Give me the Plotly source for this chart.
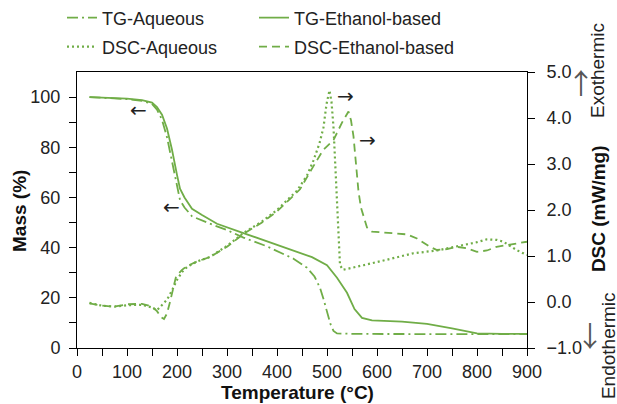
import plotly.graph_objects as go

GREEN = "#70AD47"
FONT = "Liberation Sans, Arial, sans-serif"
ARROW_FONT = "DejaVu Sans"
VARROW_FONT = "Noto Sans CJK SC"

# ---- data ----
tg_aq_temp = [25, 60, 100, 130, 150, 160, 170, 180, 190, 200, 206, 215, 230, 265, 300, 333,
              380, 433, 460, 475, 486, 493, 500, 507, 513, 520, 560, 700, 800, 900]
tg_aq_mass = [100, 99.7, 99.2, 98.5, 97.3, 95, 91, 84, 74, 63.5, 59, 56, 52.5, 49.6, 47, 44,
              40.5, 35.6, 32, 28.5, 24, 19.5, 14.5, 9.5, 6.8, 5.8, 5.6, 5.5, 5.5, 5.5]

tg_et_temp = [25, 60, 100, 130, 150, 160, 170, 180, 190, 200, 206, 215, 230, 250, 280, 330,
              380, 430, 470, 500, 520, 540, 555, 570, 590, 650, 700, 750, 800, 850, 900]
tg_et_mass = [100, 99.8, 99.4, 98.8, 97.8, 96, 93, 87.5, 79, 69, 63.5, 60, 55.5, 53, 49.5, 46,
              42.5, 39, 36.2, 33, 28, 22, 15.5, 12, 11, 10.5, 9.6, 7.8, 5.8, 5.6, 5.6]

dsc_aq_temp = [25, 50, 75, 100, 130, 150, 160, 170, 180, 190, 200, 210, 220, 240, 266, 300,
               333, 370, 400, 440, 460, 473, 485, 493, 499, 505, 509, 513, 516, 519, 523, 526,
               532, 550, 573, 620, 673, 720, 759, 800, 819, 840, 853, 879, 900]
dsc_aq_val = [-0.02, -0.08, -0.1, -0.07, -0.06, -0.12, -0.18, -0.07, 0.05, 0.25, 0.48, 0.65,
              0.76, 0.88, 0.98, 1.22, 1.5, 1.75, 2.0, 2.42, 2.75, 3.08, 3.45, 3.8, 4.3, 4.6,
              4.35, 3.8, 3.1, 2.4, 1.5, 0.8, 0.7, 0.75, 0.8, 0.92, 1.06, 1.12, 1.2, 1.3, 1.36,
              1.35, 1.31, 1.13, 1.02]

dsc_et_temp = [25, 50, 75, 100, 130, 150, 160, 168, 174, 180, 186, 192, 198, 210, 220, 240,
               266, 300, 333, 370, 400, 430, 446, 470, 492, 513, 530, 543, 548, 553, 558, 563,
               568, 573, 580, 590, 620, 660, 680, 706, 720, 740, 759, 780, 800, 820, 839, 870, 900]
dsc_et_val = [-0.03, -0.08, -0.1, -0.05, -0.04, -0.1, -0.2, -0.33, -0.37, -0.25, 0.0, 0.3,
              0.55, 0.7, 0.78, 0.88, 0.98, 1.2, 1.48, 1.73, 1.97, 2.28, 2.45, 2.9, 3.3, 3.52,
              3.9, 4.14, 3.95, 3.6, 3.0, 2.4, 2.05, 1.85, 1.62, 1.53, 1.5, 1.47, 1.38, 1.2,
              1.13, 1.15, 1.2, 1.17, 1.09, 1.12, 1.2, 1.25, 1.31]

x_ticks = [0, 100, 200, 300, 400, 500, 600, 700, 800, 900]
mass_ticks = [0, 20, 40, 60, 80, 100]
dsc_ticks = [-1, 0, 1, 2, 3, 4, 5]

fig = go.Figure()
fig.add_trace(go.Scatter(x=tg_aq_temp, y=tg_aq_mass, name="TG-Aqueous", mode="lines",
                         line=dict(color=GREEN, width=1.8, dash="11px,4px,2px,4px"),
                         legend="legend", yaxis="y"))
fig.add_trace(go.Scatter(x=tg_et_temp, y=tg_et_mass, name="TG-Ethanol-based", mode="lines",
                         line=dict(color=GREEN, width=1.8), legend="legend2", yaxis="y"))
fig.add_trace(go.Scatter(x=dsc_aq_temp, y=dsc_aq_val, name="DSC-Aqueous", mode="lines",
                         line=dict(color=GREEN, width=2.2, dash="2px,3px"),
                         legend="legend3", yaxis="y2"))
fig.add_trace(go.Scatter(x=dsc_et_temp, y=dsc_et_val, name="DSC-Ethanol-based", mode="lines",
                         line=dict(color=GREEN, width=1.8, dash="8px,5px"),
                         legend="legend4", yaxis="y2"))

axis_common = dict(showline=True, linecolor="black", linewidth=1, ticks="outside",
                   ticklen=7, tickcolor="black", showgrid=False, zeroline=False,
                   tickfont=dict(family=FONT, size=18, color="#222222"))

legend_common = dict(orientation="h", xref="container", yref="container",
                     xanchor="left", yanchor="middle", bgcolor="rgba(0,0,0,0)",
                     font=dict(family=FONT, size=18, color="#222222"))

fig.update_layout(
    width=617, height=404,
    margin=dict(l=77, r=90, t=72, b=56, autoexpand=False),
    paper_bgcolor="white", plot_bgcolor="white",
    font=dict(family=FONT, size=18, color="#222222"),
    xaxis=dict(range=[0, 900], tickvals=x_ticks, mirror=True, ticklabelstandoff=0,
               minor=dict(dtick=50, tick0=0, ticks="outside", ticklen=7, tickcolor="black"),
               **axis_common),
    yaxis=dict(range=[0, 110], tickvals=mass_ticks, ticklabelstandoff=5,
               minor=dict(tickvals=[10, 30, 50, 70, 90], ticks="outside", ticklen=7,
                          tickcolor="black"),
               **axis_common),
    yaxis2=dict(range=[-1, 5], tickvals=dsc_ticks, tickformat=".1f", overlaying="y",
                side="right", ticklabelstandoff=8, **axis_common),
    legend=dict(x=62 / 617, y=1 - 18 / 404, **legend_common),
    legend2=dict(x=254 / 617, y=1 - 18 / 404, **legend_common),
    legend3=dict(x=62 / 617, y=1 - 47 / 404, **legend_common),
    legend4=dict(x=254 / 617, y=1 - 47 / 404, **legend_common),
    showlegend=True,
)

title_font = dict(family=FONT, size=19, color="#111111")
ann = [
    dict(text="<b>Mass (%)</b>", x=-0.1267, y=0.4964, textangle=-90, font=title_font),
    dict(text="<b>Temperature (°C)</b>", x=0.489, y=-0.163, font=title_font),
    dict(text="<b>DSC (mW/mg)</b>", x=1.158, y=0.5036, textangle=-90, font=title_font),
    dict(text="Exothermic", x=1.1555, y=1.007, textangle=-90,
         font=dict(family=FONT, size=19, color="#222222")),
    dict(text="Endothermic", x=1.18, y=0.007, textangle=-90,
         font=dict(family=FONT, size=19, color="#222222")),
    dict(text="↑", x=1.12, y=0.964, font=dict(family=VARROW_FONT, size=28, color="#555555")),
    dict(text="↓", x=1.14, y=0.047, font=dict(family=VARROW_FONT, size=28, color="#555555")),
]
for a in ann:
    fig.add_annotation(xref="paper", yref="paper", showarrow=False,
                       xanchor="center", yanchor="middle", **a)

arrow_font = dict(family=ARROW_FONT, size=20, color="#222222")
for txt, xv, yv in [("←", 122, 94.8), ("←", 188, 56), ("→", 536, 100.4), ("→", 580, 82.8)]:
    fig.add_annotation(x=xv, y=yv, xref="x", yref="y", text=txt, showarrow=False,
                       xanchor="center", yanchor="middle", font=arrow_font)

fig.write_html("out.html")
